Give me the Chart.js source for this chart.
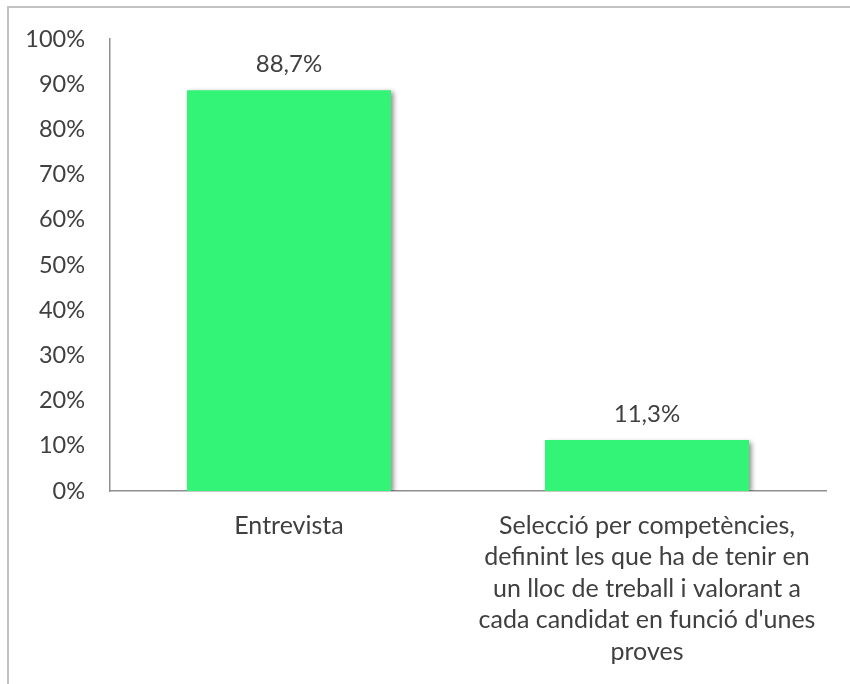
<!DOCTYPE html>
<html>
<head>
<meta charset="utf-8">
<script src="https://cdn.jsdelivr.net/npm/chart.js@4.4.1/dist/chart.umd.min.js"></script>
<style>
  html, body { margin: 0; padding: 0; background: #fff; overflow: hidden; }
  #frame {
    position: absolute; left: 7px; top: 6px; width: 900px; height: 800px;
    border: 2px solid #c3c3c3; box-sizing: border-box;
  }
  #chart { position: absolute; left: 0; top: 0; }
</style>
</head>
<body>
<div id="frame"></div>
<canvas id="chart" width="850" height="684"></canvas>
<script>
// Chart data
const categories = [
  ['Entrevista'],
  ['Selecció per competències,', 'definint les que ha de tenir en', 'un lloc de treball i valorant a', "cada candidat en funció d'unes", 'proves']
];
const values = [88.7, 11.3];
const valueLabels = ['88,7%', '11,3%'];

const textColor = '#404040';
const axisColor = '#8f8f8f';
const barColor = '#33f477';
const fontFamily = 'Lato, "Open Sans", sans-serif';

// Soft drop shadow behind the bars, like the spreadsheet original
const barShadow = {
  id: 'barShadow',
  beforeDatasetsDraw(chart) {
    const ctx = chart.ctx;
    ctx.save();
    ctx.shadowColor = 'rgba(0, 0, 0, 0.45)';
    ctx.shadowBlur = 5;
    ctx.shadowOffsetX = 3;
    ctx.shadowOffsetY = 2;
  },
  afterDatasetsDraw(chart) {
    chart.ctx.restore();
  }
};

// Value labels above each bar
const valueLabelPlugin = {
  id: 'valueLabels',
  afterDatasetsDraw(chart) {
    const ctx = chart.ctx;
    const meta = chart.getDatasetMeta(0);
    ctx.save();
    ctx.shadowColor = 'transparent';
    ctx.fillStyle = textColor;
    ctx.font = '24px ' + fontFamily;
    ctx.textAlign = 'center';
    ctx.textBaseline = 'middle';
    meta.data.forEach((bar, i) => {
      ctx.fillText(valueLabels[i], bar.x, bar.y - 26);
    });
    ctx.restore();
  }
};

new Chart(document.getElementById('chart'), {
  type: 'bar',
  data: {
    labels: categories,
    datasets: [{
      data: values,
      backgroundColor: barColor,
      borderWidth: 0,
      categoryPercentage: 1,
      barPercentage: 0.57
    }]
  },
  options: {
    responsive: false,
    animation: false,
    devicePixelRatio: 1,
    layout: { padding: { top: 37, left: 0, right: 24, bottom: 0 } },
    plugins: {
      legend: { display: false },
      tooltip: { enabled: false }
    },
    scales: {
      x: {
        grid: { display: false, drawTicks: false },
        border: { display: true, color: axisColor, width: 1.5 },
        ticks: {
          color: textColor,
          font: { family: fontFamily, size: 25, lineHeight: '31.5px' },
          padding: 19,
          maxRotation: 0,
          autoSkip: false
        },
        afterFit(scale) { scale.height = 193; }
      },
      y: {
        min: 0,
        max: 100,
        grid: { display: false, drawTicks: false },
        border: { display: true, color: axisColor, width: 1.5 },
        ticks: {
          stepSize: 10,
          color: textColor,
          font: { family: fontFamily, size: 23.5 },
          padding: 25,
          callback: (v) => v + '%'
        },
        afterFit(scale) { scale.width = 110; }
      }
    }
  },
  plugins: [barShadow, valueLabelPlugin]
});
</script>
</body>
</html>
